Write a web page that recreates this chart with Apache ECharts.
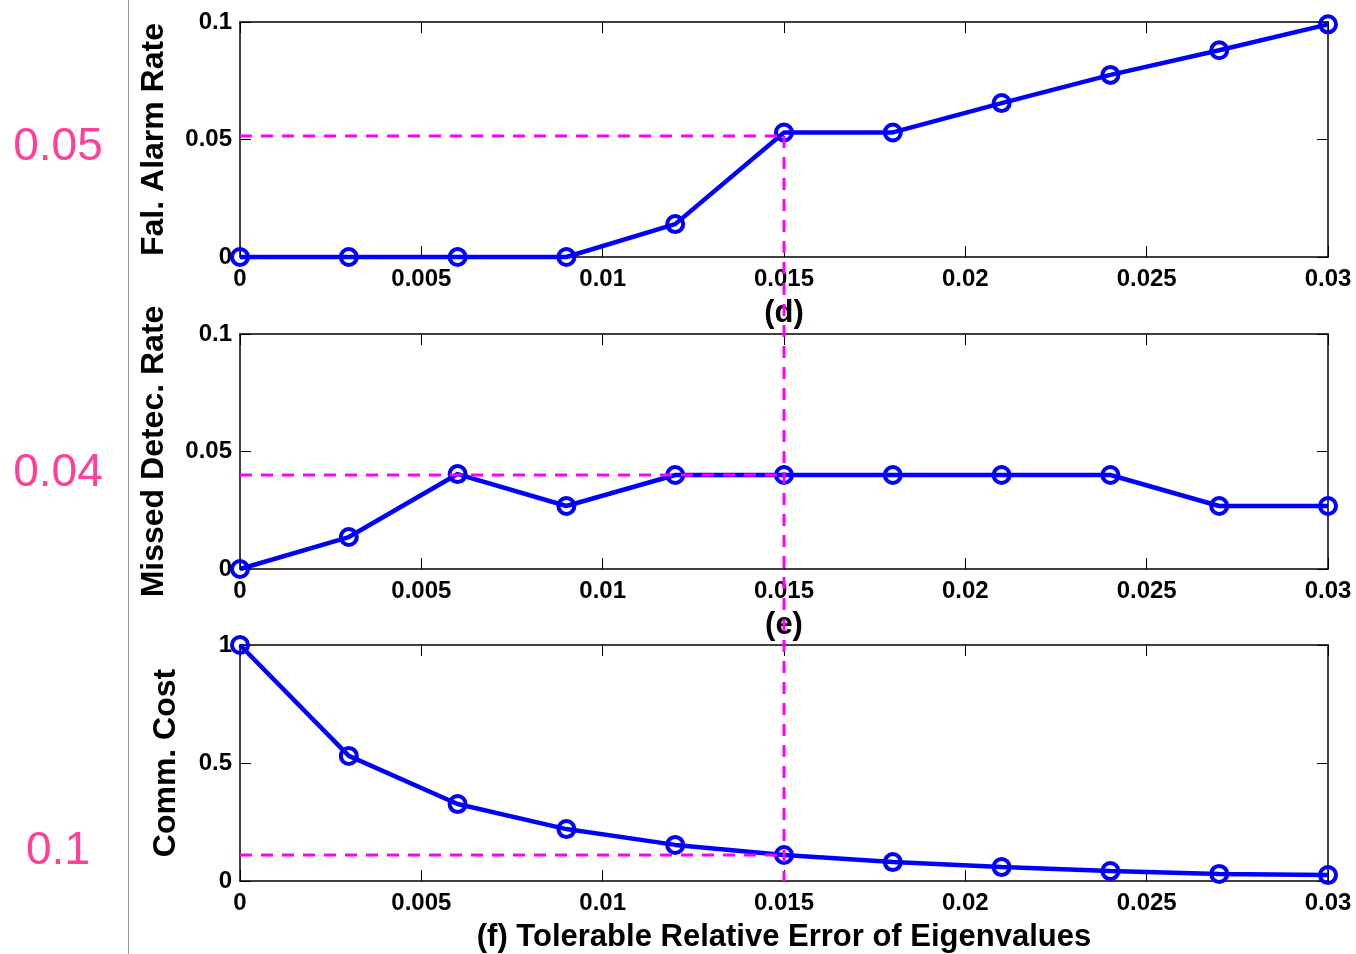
<!DOCTYPE html>
<html>
<head>
<meta charset="utf-8">
<script src="https://cdn.jsdelivr.net/npm/echarts@6/dist/echarts.min.js"></script>
<style>
  html, body { margin: 0; padding: 0; background: #fff; }
  #chart-container { width: 1356px; height: 954px; }
</style>
</head>
<body>
<div id="chart-container"></div>
<script>
(function () {
    // tolerable relative error of eigenvalues
    const errorLevels = [0, 0.003, 0.006, 0.009, 0.012, 0.015, 0.018, 0.021, 0.024, 0.027, 0.03];
    // (d) false alarm rate
    const falseAlarm = [0, 0, 0, 0, 0.014, 0.053, 0.053, 0.0655, 0.0775, 0.088, 0.099];
    // (e) missed detection rate
    const missedDetec = [0, 0.0136, 0.0404, 0.0268, 0.04, 0.04, 0.04, 0.04, 0.04, 0.0268, 0.0268];
    // (f) communication cost
    const commCost = [1, 0.53, 0.326, 0.22, 0.153, 0.11, 0.08, 0.059, 0.042, 0.03, 0.025];

    // chosen operating point and the values read at it
    const chosenError = 0.015;
    const chosenValues = [0.0515, 0.04, 0.11];
    const chosenLabels = ['0.05', '0.04', '0.1'];

    const yNames = ['Fal. Alarm Rate', 'Missed Detec. Rate', 'Comm. Cost'];
    const xNames = ['(d)', '(e)', '(f) Tolerable Relative Error of Eigenvalues'];
    const yMax = [0.1, 0.1, 1];
    const yInterval = [0.05, 0.05, 0.5];

    const font = 'Liberation Sans, Arial, Helvetica, sans-serif';
    const blue = '#0000ff';
    const magenta = '#ff00ff';

    const grids = [
        { left: 240, right: 28, top: 22, height: 235, outerBoundsMode: 'none' },
        { left: 240, right: 28, top: 334, height: 235, outerBoundsMode: 'none' },
        { left: 240, right: 28, top: 645, height: 236, outerBoundsMode: 'none' },
    ];

    const fmt = v => String(+(+v).toFixed(4));
    const frameLine = { show: true, onZero: false, lineStyle: { color: '#000', width: 1.5 } };
    const tick = { show: true, inside: true, length: 11, lineStyle: { color: '#000', width: 1 } };
    const tickLabel = { fontFamily: font, fontSize: 24, fontWeight: 'bold', color: '#000', formatter: fmt };

    const xAxis = [];
    const yAxis = [];
    const series = [];
    const yNameGap = [70, 70, 58];

    grids.forEach((g, i) => {
        // bottom axis with labels
        xAxis.push({
            type: 'value', gridIndex: i, min: 0, max: 0.03, interval: 0.005,
            position: 'bottom',
            name: xNames[i], nameLocation: 'middle', nameGap: 41,
            nameTextStyle: { fontFamily: font, fontSize: 31, fontWeight: 'bold', color: '#000', verticalAlign: 'top' },
            axisLine: frameLine,
            axisTick: tick,
            axisLabel: Object.assign({ margin: 10 }, tickLabel),
            splitLine: { show: false },
        });
        // top axis: frame + ticks only
        xAxis.push({
            type: 'value', gridIndex: i, min: 0, max: 0.03, interval: 0.005,
            position: 'top',
            axisLine: frameLine,
            axisTick: tick,
            axisLabel: { show: false },
            splitLine: { show: false },
        });
        yAxis.push({
            type: 'value', gridIndex: i, min: 0, max: yMax[i], interval: yInterval[i],
            position: 'left',
            name: yNames[i], nameLocation: 'middle', nameGap: yNameGap[i], nameRotate: 90,
            nameTextStyle: { fontFamily: font, fontSize: 32, fontWeight: 'bold', color: '#000' },
            axisLine: frameLine,
            axisTick: tick,
            axisLabel: Object.assign({ margin: 8 }, tickLabel),
            splitLine: { show: false },
        });
        yAxis.push({
            type: 'value', gridIndex: i, min: 0, max: yMax[i], interval: yInterval[i],
            position: 'right',
            axisLine: frameLine,
            axisTick: tick,
            axisLabel: { show: false },
            splitLine: { show: false },
        });
    });

    [falseAlarm, missedDetec, commCost].forEach((vals, i) => {
        series.push({
            type: 'line',
            xAxisIndex: 2 * i, yAxisIndex: 2 * i,
            data: errorLevels.map((x, k) => [x, vals[k]]),
            symbol: 'circle', symbolSize: 16, showSymbol: true,
            lineStyle: { color: blue, width: 4.5 },
            itemStyle: { color: 'rgba(255,255,255,0)', borderColor: blue, borderWidth: 4 },
            z: 3,
            clip: false,
        });
        // horizontal guide at the chosen point
        series.push({
            type: 'line',
            xAxisIndex: 2 * i, yAxisIndex: 2 * i,
            data: [[0, chosenValues[i]], [chosenError, chosenValues[i]]],
            symbol: 'none',
            lineStyle: { color: magenta, width: 3, type: [12, 9] },
            z: 5,
            silent: true,
        });
    });

    const myChart = echarts.init(document.getElementById('chart-container'), null, { renderer: 'canvas' });
    myChart.setOption({
        animation: false,
        backgroundColor: '#fff',
        grid: grids,
        xAxis: xAxis,
        yAxis: yAxis,
        series: series,
    });

    // vertical guide crosses all three panels
    const topPt = myChart.convertToPixel({ xAxisIndex: 0, yAxisIndex: 0 }, [chosenError, chosenValues[0]]);
    const botPt = myChart.convertToPixel({ xAxisIndex: 4, yAxisIndex: 4 }, [chosenError, 0]);
    const labelY = [147, 473, 851];

    const graphic = [
        {
            type: 'line', z: 10,
            shape: { x1: 128.5, y1: 0, x2: 128.5, y2: 954 },
            style: { stroke: '#9a9a9a', lineWidth: 1 },
        },
        {
            type: 'line', z: 10,
            shape: { x1: topPt[0], y1: topPt[1], x2: botPt[0], y2: botPt[1] },
            style: { stroke: magenta, lineWidth: 3, lineDash: [12, 9] },
        },
    ];
    chosenLabels.forEach((t, i) => {
        graphic.push({
            type: 'text', z: 10,
            x: 58, y: labelY[i],
            style: {
                text: t, fill: '#ff3f98', font: '46px ' + font,
                textAlign: 'center', textVerticalAlign: 'middle',
            },
        });
    });
    myChart.setOption({ graphic: graphic });
})();
</script>
</body>
</html>
